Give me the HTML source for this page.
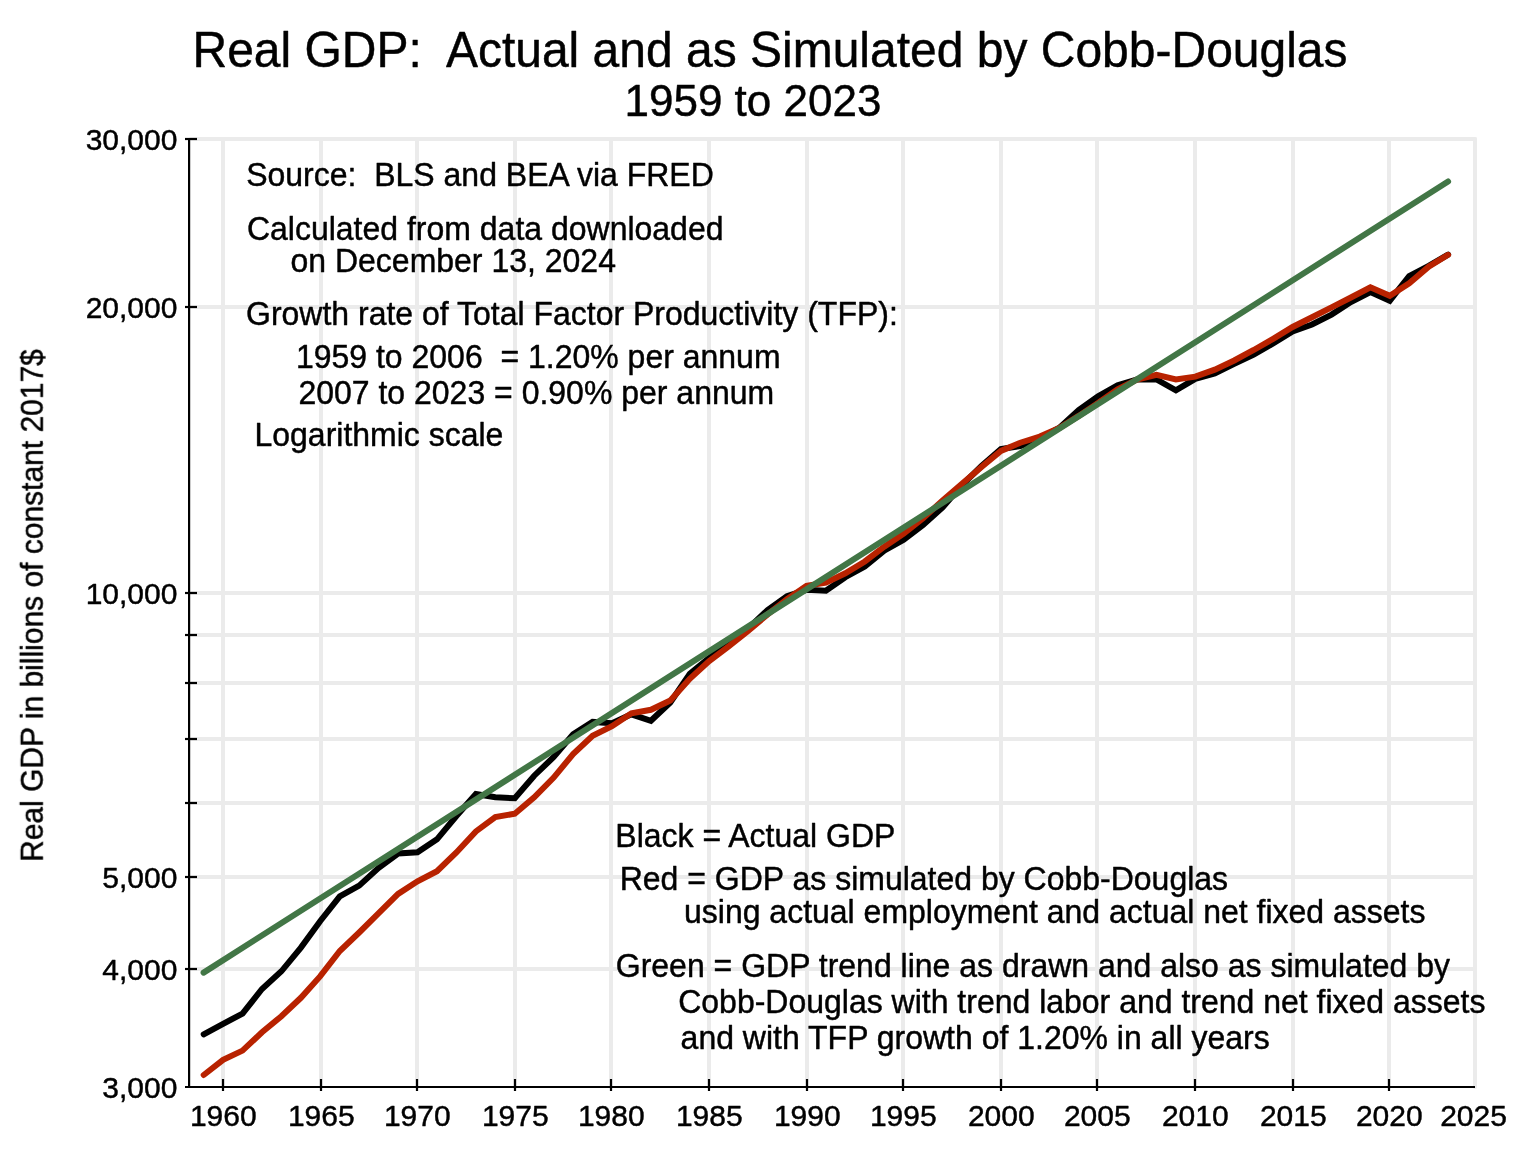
<!DOCTYPE html>
<html lang="en"><head><meta charset="utf-8"><title>Real GDP: Actual and as Simulated by Cobb-Douglas</title>
<style>
html,body{margin:0;padding:0;background:#fff;}
body{width:1534px;height:1168px;overflow:hidden;}
svg{display:block;}
text{font-family:"Liberation Sans",Arial,Helvetica,sans-serif;fill:#000;white-space:pre;stroke:#000;stroke-width:0.45px;stroke-linejoin:round;}
.t48{font-size:48px}.t44{font-size:44px}.t32{font-size:32px}.t30{font-size:30px}
</style></head><body>
<svg width="1534" height="1168" viewBox="0 0 1534 1168">
<rect width="1534" height="1168" fill="#fff"/>

<g stroke="#ebebeb" stroke-width="4" fill="none" stroke-linecap="round">
<line x1="191" y1="139" x2="1475" y2="139"/>
<line x1="191" y1="307" x2="1475" y2="307"/>
<line x1="191" y1="593" x2="1475" y2="593"/>
<line x1="191" y1="635" x2="1475" y2="635"/>
<line x1="191" y1="683" x2="1475" y2="683"/>
<line x1="191" y1="739" x2="1475" y2="739"/>
<line x1="191" y1="803" x2="1475" y2="803"/>
<line x1="191" y1="877" x2="1475" y2="877"/>
<line x1="191" y1="969" x2="1475" y2="969"/>
<line x1="223" y1="139" x2="223" y2="1087"/>
<line x1="321" y1="139" x2="321" y2="1087"/>
<line x1="417" y1="139" x2="417" y2="1087"/>
<line x1="515" y1="139" x2="515" y2="1087"/>
<line x1="611" y1="139" x2="611" y2="1087"/>
<line x1="709" y1="139" x2="709" y2="1087"/>
<line x1="807" y1="139" x2="807" y2="1087"/>
<line x1="903" y1="139" x2="903" y2="1087"/>
<line x1="1001" y1="139" x2="1001" y2="1087"/>
<line x1="1097" y1="139" x2="1097" y2="1087"/>
<line x1="1195" y1="139" x2="1195" y2="1087"/>
<line x1="1293" y1="139" x2="1293" y2="1087"/>
<line x1="1389" y1="139" x2="1389" y2="1087"/>
<line x1="1475" y1="139" x2="1475" y2="1087"/>
</g>
<g stroke="#000" stroke-width="2.2" fill="none">
<line x1="189.1" y1="138" x2="189.1" y2="1088.1"/>
<line x1="185" y1="1087" x2="1475" y2="1087"/>
<line x1="185" y1="139" x2="197" y2="139"/>
<line x1="185" y1="307" x2="197" y2="307"/>
<line x1="185" y1="593" x2="197" y2="593"/>
<line x1="185" y1="635" x2="197" y2="635"/>
<line x1="185" y1="683" x2="197" y2="683"/>
<line x1="185" y1="739" x2="197" y2="739"/>
<line x1="185" y1="803" x2="197" y2="803"/>
<line x1="185" y1="877" x2="197" y2="877"/>
<line x1="185" y1="969" x2="197" y2="969"/>
<line x1="223" y1="1079" x2="223" y2="1091"/>
<line x1="321" y1="1079" x2="321" y2="1091"/>
<line x1="417" y1="1079" x2="417" y2="1091"/>
<line x1="515" y1="1079" x2="515" y2="1091"/>
<line x1="611" y1="1079" x2="611" y2="1091"/>
<line x1="709" y1="1079" x2="709" y2="1091"/>
<line x1="807" y1="1079" x2="807" y2="1091"/>
<line x1="903" y1="1079" x2="903" y2="1091"/>
<line x1="1001" y1="1079" x2="1001" y2="1091"/>
<line x1="1097" y1="1079" x2="1097" y2="1091"/>
<line x1="1195" y1="1079" x2="1195" y2="1091"/>
<line x1="1293" y1="1079" x2="1293" y2="1091"/>
<line x1="1389" y1="1079" x2="1389" y2="1091"/>
</g>
<g fill="none" stroke-width="6" stroke-linecap="round" stroke-linejoin="miter" stroke-miterlimit="10">
<polyline stroke="#000000" points="203.7,1034.3 223.1,1023.8 242.5,1013.6 262.0,989.0 281.4,971.3 300.9,947.6 320.3,921.0 339.8,896.4 359.2,885.6 378.7,867.9 398.1,853.5 417.5,852.3 437.0,839.3 456.4,816.0 475.9,794.0 495.3,797.3 514.8,798.3 534.2,775.7 553.7,757.0 573.1,734.3 592.6,721.9 612.0,723.3 631.4,714.3 650.9,720.8 670.3,702.5 689.8,673.9 709.2,657.8 728.7,643.5 748.1,628.5 767.6,610.0 787.0,596.1 806.5,589.8 825.9,590.7 845.3,577.2 864.8,566.4 884.2,550.6 903.7,539.8 923.1,525.0 942.6,507.3 962.0,485.0 981.5,466.0 1000.9,449.0 1020.3,446.0 1039.8,438.5 1059.2,428.0 1078.7,410.0 1098.1,396.2 1117.6,385.4 1137.0,379.5 1156.5,379.5 1175.9,390.3 1195.3,378.8 1214.8,373.4 1234.2,363.8 1253.7,354.6 1273.1,343.4 1292.6,331.5 1312.0,324.5 1331.5,314.6 1350.9,302.0 1370.4,292.0 1389.8,300.7 1409.2,276.0 1428.7,265.8 1448.1,254.6"/>
<polyline stroke="#b82200" points="203.7,1075.0 223.1,1059.9 242.5,1050.6 262.0,1032.3 281.4,1016.2 300.9,997.8 320.3,976.2 339.8,951.0 359.2,932.5 378.7,913.2 398.1,893.9 417.5,881.3 437.0,871.2 456.4,852.5 475.9,831.4 495.3,817.0 514.8,813.7 534.2,797.3 553.7,777.6 573.1,754.0 592.6,735.7 612.0,726.2 631.4,713.3 650.9,709.8 670.3,700.5 689.8,678.8 709.2,661.1 728.7,646.3 748.1,631.0 767.6,614.4 787.0,599.1 806.5,585.9 825.9,582.7 845.3,573.3 864.8,561.5 884.2,546.7 903.7,533.5 923.1,518.2 942.6,500.4 962.0,483.7 981.5,467.0 1000.9,450.9 1020.3,442.7 1039.8,436.6 1059.2,428.1 1078.7,415.9 1098.1,403.0 1117.6,389.3 1137.0,379.5 1156.5,374.9 1175.9,379.5 1195.3,376.6 1214.8,369.7 1234.2,360.5 1253.7,350.0 1273.1,338.8 1292.6,327.0 1312.0,317.2 1331.5,307.3 1350.9,297.5 1370.4,287.3 1389.8,295.8 1409.2,283.3 1428.7,266.6 1448.1,254.8"/>
<polyline stroke="#427646" points="203.6,972.6 1448.1,181.5"/>
</g>
<g opacity="0.999">
<text class="t30" text-anchor="end" transform="translate(177.4,150.4) scale(1,1.0)">30,000</text>
<text class="t30" text-anchor="end" transform="translate(177.4,318.4) scale(1,1.0)">20,000</text>
<text class="t30" text-anchor="end" transform="translate(177.4,604.4) scale(1,1.0)">10,000</text>
<text class="t30" text-anchor="end" transform="translate(177.4,888.4) scale(1,1.0)">5,000</text>
<text class="t30" text-anchor="end" transform="translate(177.4,980.4) scale(1,1.0)">4,000</text>
<text class="t30" text-anchor="end" transform="translate(177.4,1098.4) scale(1,1.0)">3,000</text>
<text class="t30" text-anchor="middle" transform="translate(223.3,1126.2) scale(1,1.0)">1960</text>
<text class="t30" text-anchor="middle" transform="translate(321.3,1126.2) scale(1,1.0)">1965</text>
<text class="t30" text-anchor="middle" transform="translate(417.3,1126.2) scale(1,1.0)">1970</text>
<text class="t30" text-anchor="middle" transform="translate(515.3,1126.2) scale(1,1.0)">1975</text>
<text class="t30" text-anchor="middle" transform="translate(611.3,1126.2) scale(1,1.0)">1980</text>
<text class="t30" text-anchor="middle" transform="translate(709.3,1126.2) scale(1,1.0)">1985</text>
<text class="t30" text-anchor="middle" transform="translate(807.3,1126.2) scale(1,1.0)">1990</text>
<text class="t30" text-anchor="middle" transform="translate(903.3,1126.2) scale(1,1.0)">1995</text>
<text class="t30" text-anchor="middle" transform="translate(1001.3,1126.2) scale(1,1.0)">2000</text>
<text class="t30" text-anchor="middle" transform="translate(1097.3,1126.2) scale(1,1.0)">2005</text>
<text class="t30" text-anchor="middle" transform="translate(1195.3,1126.2) scale(1,1.0)">2010</text>
<text class="t30" text-anchor="middle" transform="translate(1293.3,1126.2) scale(1,1.0)">2015</text>
<text class="t30" text-anchor="middle" transform="translate(1389.3,1126.2) scale(1,1.0)">2020</text>
<text class="t30" text-anchor="middle" transform="translate(1473.5,1126.2) scale(1,1.0)">2025</text>
<text class="t30" transform="translate(42.5,861.9) rotate(-90) scale(1,1.025)">Real GDP in billions of constant 2017$</text>
<text class="t48" transform="translate(192.5,67.2) scale(1,1.025)">Real GDP:  Actual and as Simulated by Cobb-Douglas</text>
<text class="t44" transform="translate(624.5,115.5) scale(1,1.0)">1959 to 2023</text>
<text class="t32" transform="translate(246.2,186.0) scale(1,1.025)">Source:  BLS and BEA via FRED</text>
<text class="t32" transform="translate(246.9,239.7) scale(1,1.025)">Calculated from data downloaded</text>
<text class="t32" transform="translate(290.5,272.3) scale(1,1.025)">on December 13, 2024</text>
<text class="t32" transform="translate(246.0,325.0) scale(1,1.025)">Growth rate of Total Factor Productivity (TFP):</text>
<text class="t32" transform="translate(295.9,367.5) scale(1,1.025)">1959 to 2006  = 1.20% per annum</text>
<text class="t32" transform="translate(298.4,403.7) scale(1,1.025)">2007 to 2023 = 0.90% per annum</text>
<text class="t32" transform="translate(254.5,446.0) scale(1,1.025)">Logarithmic scale</text>
<text class="t32" transform="translate(615.3,847.2) scale(1,1.025)">Black = Actual GDP</text>
<text class="t32" transform="translate(619.7,889.7) scale(1,1.025)">Red = GDP as simulated by Cobb-Douglas</text>
<text class="t32" transform="translate(684.0,923.3) scale(1,1.025)">using actual employment and actual net fixed assets</text>
<text class="t32" transform="translate(615.8,977.2) scale(1,1.025)">Green = GDP trend line as drawn and also as simulated by</text>
<text class="t32" transform="translate(678.2,1013.4) scale(1,1.025)">Cobb-Douglas with trend labor and trend net fixed assets</text>
<text class="t32" transform="translate(680.6,1048.6) scale(1,1.025)">and with TFP growth of 1.20% in all years</text>
</g>
</svg></body></html>
